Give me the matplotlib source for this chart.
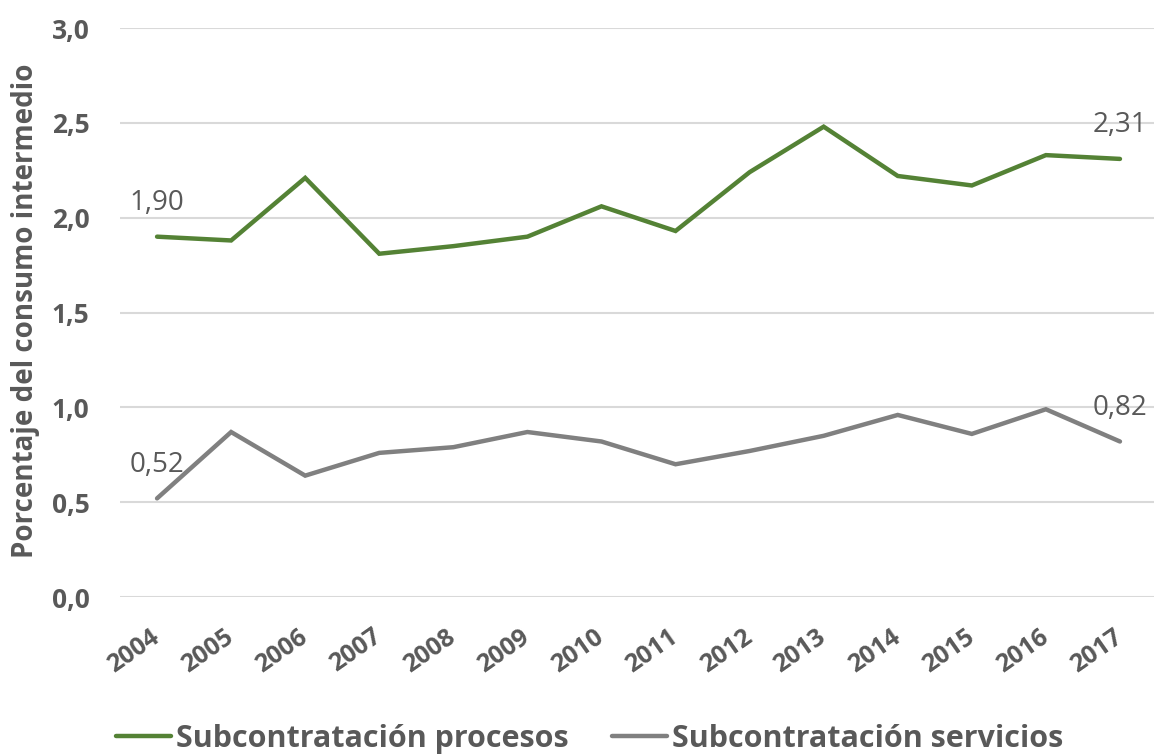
import matplotlib
matplotlib.use("Agg")
import matplotlib.pyplot as plt
import numpy as np

years = ["2004", "2005", "2006", "2007", "2008", "2009", "2010",
         "2011", "2012", "2013", "2014", "2015", "2016", "2017"]
procesos = [1.90, 1.88, 2.21, 1.81, 1.85, 1.90, 2.06, 1.93, 2.24, 2.48, 2.22, 2.17, 2.33, 2.31]
servicios = [0.52, 0.87, 0.64, 0.76, 0.79, 0.87, 0.82, 0.70, 0.77, 0.85, 0.96, 0.86, 0.99, 0.82]
yticks = [0.0, 0.5, 1.0, 1.5, 2.0, 2.5, 3.0]

plt.rcParams['font.family'] = ['Open Sans', 'DejaVu Sans']
txt = '#595959'
green = '#548235'
gray = '#808080'

fig = plt.figure(figsize=(11.54, 7.54), dpi=100)
ax = fig.add_axes([0.104, 0.2082, 0.8986, 0.7546])
x = np.arange(len(years))
ax.plot(x, procesos, color=green, lw=3.2, solid_capstyle='round', solid_joinstyle='miter',
        label='Subcontratación procesos')
ax.plot(x, servicios, color=gray, lw=3.2, solid_capstyle='round', solid_joinstyle='miter',
        label='Subcontratación servicios')

ax.set_xlim(-0.5, len(years) - 0.5)
ax.set_ylim(0, 3.0)
ax.set_yticks(yticks)
ax.set_yticklabels([f"{v:.1f}".replace('.', ',') for v in yticks],
                   fontsize=19, fontweight='bold', color=txt)
ax.set_xticks(x)
ax.set_xticklabels(years, rotation=35, ha='right', va='center', rotation_mode='anchor',
                   fontsize=18, fontweight='bold', color=txt)
ax.tick_params(axis='both', length=0)
ax.tick_params(axis='y', pad=22)
ax.tick_params(axis='x', pad=27)
for s in ax.spines.values():
    s.set_visible(False)
ax.grid(axis='y', color='#d9d9d9', lw=1.5)
ax.set_axisbelow(True)

ax.set_ylabel('Porcentaje del consumo intermedio', fontsize=20, fontweight='bold',
              color=txt)
ax.yaxis.set_label_coords(-0.0767, 0.503)

def fmt(v):
    return f"{v:.2f}".replace('.', ',')

for xi, v in [(0, procesos[0]), (len(years) - 1, procesos[-1]),
              (0, servicios[0]), (len(years) - 1, servicios[-1])]:
    ax.annotate(fmt(v), (xi, v), xytext=(0, 14), textcoords='offset points',
                ha='center', va='bottom', fontsize=20, color=txt)

leg = fig.legend(loc='center', bbox_to_anchor=(0.511, 0.020), ncol=2, frameon=False,
                 prop={'size': 22, 'weight': 'bold'}, handlelength=1.8,
                 handletextpad=0.16, columnspacing=1.4)
for t in leg.get_texts():
    t.set_color(txt)

fig.savefig('out.png', dpi=100)
